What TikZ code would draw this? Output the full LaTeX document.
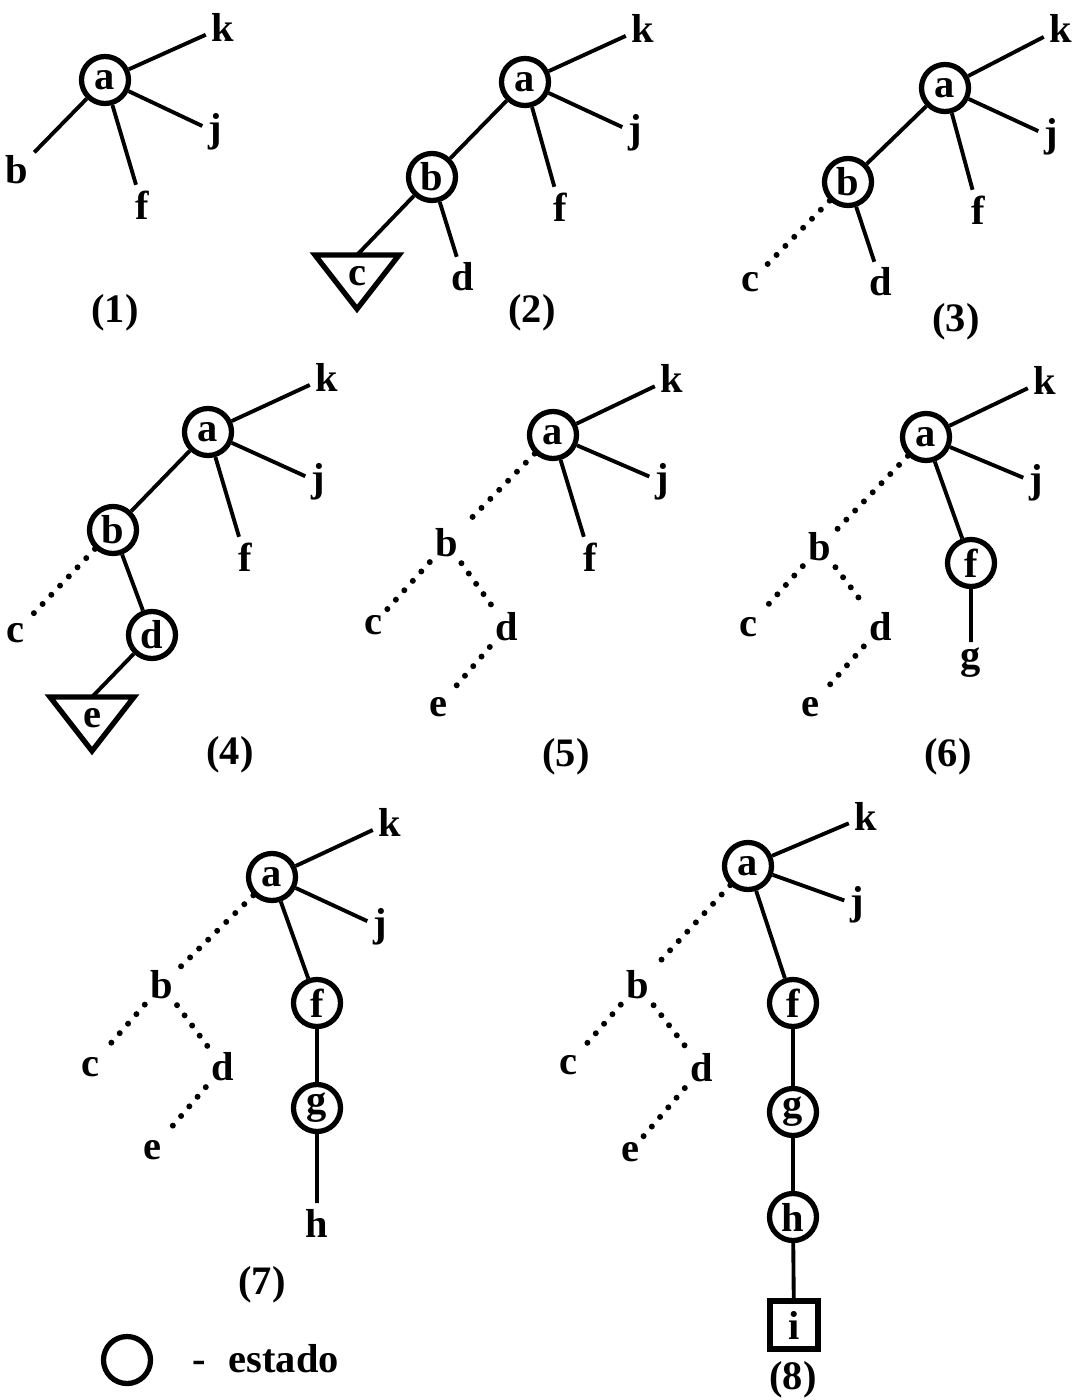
\documentclass[tikz,border=0pt]{standalone}
\usepackage{fontspec}
\setmainfont{Liberation Serif}
\newcommand{\subtree}[3]{\begin{scope}[shift={(#1)}]
  \coordinate (#2top) at (0,0);
  \draw[tri] (-42,0) -- (42,0) -- (0,54) -- cycle;
  \node[lab] (#2) at (0,21) {#3};\end{scope}}

\begin{document}
\begin{tikzpicture}[x=0.01cm,y=-0.01cm,font=\bfseries\fontsize{11.5}{13}\selectfont,
  circ/.style={draw,circle,line width=1.5pt,minimum size=0.47cm,inner sep=0pt},
  sq/.style={draw,line width=1.5pt,minimum size=0.48cm,inner sep=0pt},
  lab/.style={inner sep=1.5pt},
  tedge/.style={line width=1.1pt},
  dedge/.style={line width=1.7pt,line cap=round,dash pattern=on 0pt off 3.6pt},
  tri/.style={line width=1.5pt,line join=miter}]
\useasboundingbox (0,0) rectangle (1078,1400);
% (1)
\node[circ] (a1) at (105,80) {a};
\node[lab] (k1) at (223,27) {k}; \node[lab] (j1) at (215,132) {j};
\node[lab] (b1) at (17,170) {b}; \node[lab] (f1) at (142,205) {f};
\draw[tedge] (a1)--(k1) (a1)--(j1) (a1)--(b1) (a1)--(f1);
\node (n1) at (115,313) {(1)};
% (2)
\node[circ] (a2) at (525,82) {a};
\node[lab] (k2) at (643,28) {k}; \node[lab] (j2) at (635,133) {j};
\node[lab] (f2) at (560,207) {f};
\node[circ] (b2) at (432,177) {b};
\node[lab] (d2) at (463,277) {d};
\subtree{357,255}{c2}{c}
\draw[tedge] (a2)--(k2) (a2)--(j2) (a2)--(f2) (a2)--(b2) (b2)--(d2) (b2)--(c2top);
\node (n2) at (532,313) {(2)};
% (3)
\node[circ] (a3) at (945,88) {a};
\node[lab] (k3) at (1061,28) {k}; \node[lab] (j3) at (1051,137) {j};
\node[lab] (f3) at (978,210) {f};
\node[circ] (b3) at (848,182) {b};
\node[lab] (d3) at (881,282) {d}; \node[lab] (c3) at (750,282) {c};
\draw[tedge] (a3)--(k3) (a3)--(j3) (a3)--(f3) (a3)--(b3) (b3)--(d3);
\draw[dedge] (b3)--(c3);
\node (n3) at (956,322) {(3)};
% (4)
\node[circ] (a4) at (208,432) {a};
\node[lab] (k4) at (327,377) {k}; \node[lab] (j4) at (318,482) {j};
\node[lab] (f4) at (245,557) {f};
\node[circ] (b4) at (113,530) {b};
\node[lab] (c4) at (15,633) {c};
\node[circ] (d4) at (152,635) {d};
\subtree{92,697}{e4}{e}
\draw[tedge] (a4)--(k4) (a4)--(j4) (a4)--(f4) (a4)--(b4) (b4)--(d4) (d4)--(e4top);
\draw[dedge] (b4)--(c4);
\node (n4) at (230,755) {(4)};
% (5)
\node[circ] (a5) at (553,435) {a};
\node[lab] (k5) at (672,378) {k}; \node[lab] (j5) at (662,482) {j};
\node[lab] (f5) at (590,557) {f};
\node[lab] (b5) at (447,543) {b};
\node[lab] (c5) at (373,625) {c}; \node[lab] (d5) at (507,627) {d};
\node[lab] (e5) at (438,707) {e};
\draw[tedge] (a5)--(k5) (a5)--(j5) (a5)--(f5);
\draw[dedge] (a5)--(b5) (b5)--(c5) (b5)--(d5) (d5)--(e5);
\node (n5) at (566,757) {(5)};
% (6)
\node[circ] (a6) at (926,437) {a};
\node[lab] (k6) at (1045,380) {k}; \node[lab] (j6) at (1036,483) {j};
\node[circ] (f6) at (971,563) {f};
\node[lab] (g6) at (971,663) {g};
\node[lab] (b6) at (820,547) {b};
\node[lab] (c6) at (748,627) {c}; \node[lab] (d6) at (881,627) {d};
\node[lab] (e6) at (810,707) {e};
\draw[tedge] (a6)--(k6) (a6)--(j6) (a6)--(f6) (f6)--(g6);
\draw[dedge] (a6)--(b6) (b6)--(c6) (b6)--(d6) (d6)--(e6);
\node (n6) at (948,757) {(6)};
% (7)
\node[circ] (a7) at (272,877) {a};
\node[lab] (k7) at (390,822) {k}; \node[lab] (j7) at (380,927) {j};
\node[circ] (f7) at (317,1003) {f};
\node[circ] (g7) at (317,1108) {g};
\node[lab] (h7) at (317,1223) {h};
\node[lab] (b7) at (162,985) {b};
\node[lab] (c7) at (90,1067) {c}; \node[lab] (d7) at (223,1067) {d};
\node[lab] (e7) at (152,1150) {e};
\draw[tedge] (a7)--(k7) (a7)--(j7) (a7)--(f7) (f7)--(g7) (g7)--(h7);
\draw[dedge] (a7)--(b7) (b7)--(c7) (b7)--(d7) (d7)--(e7);
\node (n7) at (262,1285) {(7)};
% (8)
\node[circ] (a8) at (748,866) {a};
\node[lab] (k8) at (866,816) {k}; \node[lab] (j8) at (857,905) {j};
\node[circ] (f8) at (793,1003) {f};
\node[circ] (g8) at (793,1112) {g};
\node[circ] (h8) at (793,1217) {h};
\node[sq] (i8) at (794,1325) {i};
\node[lab] (b8) at (638,985) {b};
\node[lab] (c8) at (568,1065) {c}; \node[lab] (d8) at (702,1068) {d};
\node[lab] (e8) at (630,1152) {e};
\draw[tedge] (a8)--(k8) (a8)--(j8) (a8)--(f8) (f8)--(g8) (g8)--(h8) (h8)--(i8);
\draw[dedge] (a8)--(b8) (b8)--(c8) (b8)--(d8) (d8)--(e8);
\node (n8) at (793,1380) {(8)};
% legenda
\node[circ] (leg) at (127,1360) {};
\node[lab,anchor=west] (legtxt) at (187,1359) {-\hspace{0.55em}estado};
\end{tikzpicture}
\end{document}
